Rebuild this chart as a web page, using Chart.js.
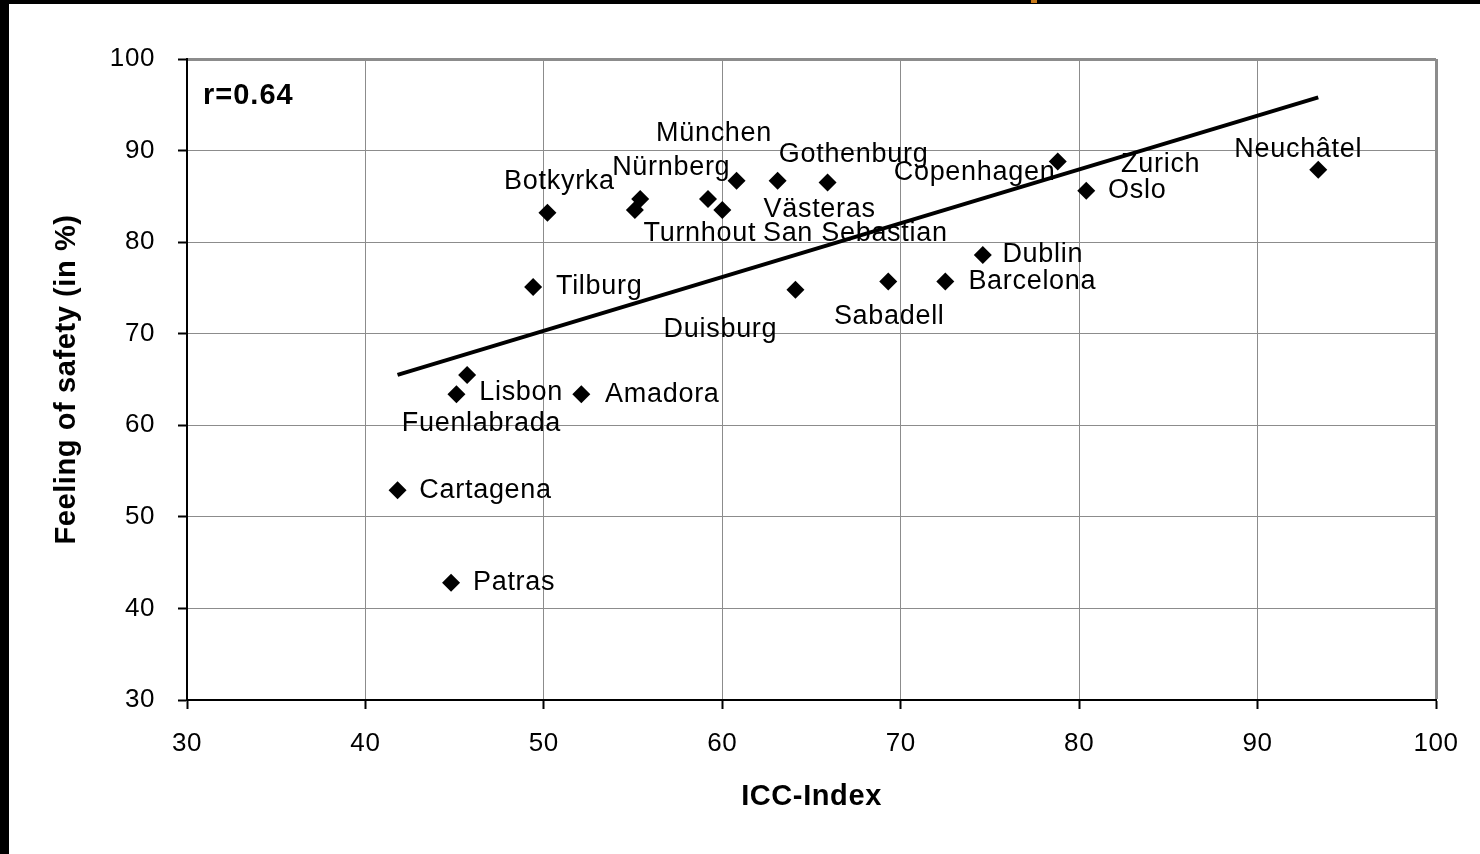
<!DOCTYPE html>
<html>
<head>
<meta charset="utf-8">
<script src="https://cdn.jsdelivr.net/npm/chart.js@4.4.0/dist/chart.umd.min.js"></script>
<style>
    html, body { margin: 0; padding: 0; background: #fff; }
    #wrap { position: relative; width: 1471px; height: 850px; border-top: 4px solid #000; border-left: 9px solid #000; }
    #mark { position: absolute; left: 1022px; top: -4px; width: 6px; height: 3px; background: #c87a1a; }
</style>
</head>
<body>
<div id="wrap"><div id="mark"></div><canvas id="chart"></canvas></div>
<script>
// Data
const cities = ['Botkyrka', 'Nürnberg', 'Turnhout', 'München', 'San Sebastian', 'Gothenburg', 'Västeras',
    'Copenhagen', 'Tilburg', 'Duisburg', 'Sabadell', 'Barcelona', 'Dublin', 'Zurich', 'Oslo', 'Neuchâtel',
    'Lisbon', 'Fuenlabrada', 'Amadora', 'Cartagena', 'Patras'];
const iccIndex = [50.2, 55.4, 55.1, 59.2, 60.0, 60.8, 63.1, 65.9, 49.4, 64.1, 69.3, 72.5, 74.6, 78.8, 80.4, 93.4,
    45.7, 45.1, 52.1, 41.8, 44.8];
const safety = [83.2, 84.7, 83.5, 84.7, 83.5, 86.7, 86.7, 86.5, 75.1, 74.8, 75.7, 75.7, 78.6, 88.8, 85.6, 87.9,
    65.5, 63.4, 63.4, 52.9, 42.8];
const trendX = [41.8, 93.4];
const trendY = [65.5, 95.8];
const correlation = 'r=0.64';
const xTicks = [30, 40, 50, 60, 70, 80, 90, 100];
const yTicks = [30, 40, 50, 60, 70, 80, 90, 100];

// label placement (pixel offset from each point to the label centre)
const labelOffsets = [[12, -31], [31, -32], [65, 23], [6, -66], [133, 23], [117, -26], [42, 29], [147, -10],
    [66, 0], [-75, 40], [1, 35], [87, 0], [60, 0], [103, 3], [51, 0], [-20, -20],
    [54, 18], [25, 29], [81, 0], [88, 0], [63, 0]];

const FONT = "'Liberation Sans', Arial, sans-serif";
const SPACING = '0.6px';

const points = cities.map((c, i) => ({ x: iccIndex[i], y: safety[i] }));
const trend = trendX.map((x, i) => ({ x: x, y: trendY[i] }));

const spacingPlugin = {
    id: 'spacing',
    beforeLayout(chart) { chart.ctx.letterSpacing = SPACING; },
    beforeDraw(chart) { chart.ctx.letterSpacing = SPACING; }
};

const labelPlugin = {
    id: 'cityLabels',
    afterDatasetsDraw(chart) {
        const ctx = chart.ctx;
        const meta = chart.getDatasetMeta(0);
        ctx.save();
        ctx.letterSpacing = '0.7px';
        ctx.fillStyle = '#000';
        ctx.font = `27px ${FONT}`;
        ctx.textAlign = 'center';
        ctx.textBaseline = 'middle';
        meta.data.forEach((pt, i) => {
            const off = labelOffsets[i];
            ctx.fillText(cities[i], pt.x + off[0], pt.y + off[1]);
        });
        // r value
        const area = chart.chartArea;
        ctx.letterSpacing = '1px';
        ctx.font = `bold 29px ${FONT}`;
        ctx.textAlign = 'left';
        ctx.fillText(correlation, area.left + 16, area.top + 37);
        ctx.restore();
    }
};

const gridWidth = (c) => (c.tick && c.tick.value === 100 ? 3 : 1);

new Chart(document.getElementById('chart').getContext('2d'), {
    type: 'scatter',
    data: {
        datasets: [
            {
                label: 'Cities',
                data: points,
                pointStyle: 'rectRot',
                pointRadius: 9,
                pointHoverRadius: 9,
                backgroundColor: '#000',
                borderColor: '#000',
                borderWidth: 0
            },
            {
                label: 'Trend',
                data: trend,
                showLine: true,
                borderColor: '#000',
                borderWidth: 4,
                pointRadius: 0
            }
        ]
    },
    options: {
        responsive: true,
        maintainAspectRatio: false,
        animation: false,
        layout: { padding: { top: 55, right: 44, left: 0, bottom: 0 } },
        plugins: {
            legend: { display: false },
            tooltip: { enabled: false }
        },
        scales: {
            x: {
                min: 30,
                max: 100,
                afterBuildTicks: (scale) => { scale.ticks = xTicks.map(v => ({ value: v })); },
                afterFit: (scale) => { scale.height = 154; },
                ticks: { color: '#000', padding: 19, font: { family: FONT, size: 26 } },
                grid: { color: '#8c8c8c', lineWidth: gridWidth, tickColor: '#000', tickLength: 9, tickWidth: 2 },
                border: { color: '#000', width: 2 },
                title: {
                    display: true,
                    text: 'ICC-Index',
                    color: '#000',
                    font: { family: FONT, size: 29, weight: 'bold' },
                    padding: { top: 0, bottom: 40 }
                }
            },
            y: {
                min: 30,
                max: 100,
                afterBuildTicks: (scale) => { scale.ticks = yTicks.map(v => ({ value: v })); },
                afterFit: (scale) => { scale.width = 178; },
                ticks: { color: '#000', padding: 23, font: { family: FONT, size: 26 } },
                grid: { color: '#8c8c8c', lineWidth: gridWidth, tickColor: '#000', tickLength: 9, tickWidth: 2 },
                border: { color: '#000', width: 2 },
                title: {
                    display: true,
                    text: 'Feeling of safety (in %)',
                    color: '#000',
                    font: { family: FONT, size: 29, weight: 'bold' },
                    padding: { top: 41, bottom: 0 }
                }
            }
        }
    },
    plugins: [spacingPlugin, labelPlugin]
});
</script>
</body>
</html>
